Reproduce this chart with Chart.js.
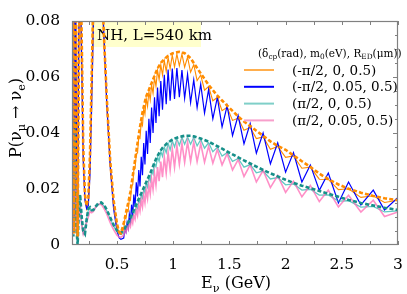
<!DOCTYPE html>
<html>
<head>
<meta charset="utf-8">
<script src="https://cdn.jsdelivr.net/npm/chart.js@4.4.0/dist/chart.umd.min.js"></script>
<style>
html, body { margin: 0; padding: 0; background: #fff; }
</style>
</head>
<body>
<canvas id="myChart" width="407" height="294"></canvas>
<script>
// energy grid (GeV): low-E part and the part with the fast wiggles
const eLow = [0.100, 0.106, 0.112, 0.118, 0.125, 0.132, 0.140, 0.150, 0.160, 0.172, 0.186, 0.200, 0.215, 0.230,
    0.245, 0.260, 0.275, 0.290, 0.310, 0.335, 0.360, 0.385, 0.410, 0.440, 0.470, 0.500, 0.520, 0.535];
const eWig = [0.56, 0.57, 0.58, 0.59, 0.60, 0.61, 0.62, 0.63, 0.64, 0.65,
    0.661, 0.672, 0.683, 0.694, 0.705, 0.716, 0.727, 0.738, 0.749, 0.76,
    0.772, 0.784, 0.796, 0.808, 0.821, 0.834, 0.847, 0.861, 0.875, 0.89,
    0.905, 0.921, 0.938, 0.955, 0.973, 0.992, 1.012, 1.033, 1.055, 1.078,
    1.102, 1.128, 1.155, 1.183, 1.213, 1.245, 1.279, 1.315, 1.353, 1.393,
    1.435, 1.48, 1.528, 1.578, 1.63, 1.685, 1.74, 1.80, 1.865, 1.93,
    2.0, 2.07, 2.145, 2.22, 2.30, 2.38, 2.47, 2.56, 2.67, 2.78,
    2.88, 3.0];

// standard oscillation, dcp = -pi/2 (orange dashed)
const stdNegLow = [0.07, 0.11, 0.03, 0.004, 0.06, 0.11, 0.05, 0.003, 0.06, 0.11, 0.075, 0.035, 0.018, 0.014,
    0.017, 0.032, 0.06, 0.088, 0.11, 0.118, 0.1, 0.074, 0.052, 0.03, 0.016, 0.0075, 0.0045, 0.0042];
const stdNegWig = [0.0077, 0.0095, 0.0115, 0.0133, 0.015, 0.017, 0.019, 0.0218, 0.0245, 0.0273,
    0.0303, 0.0333, 0.0363, 0.0393, 0.0422, 0.0447, 0.0473, 0.0493, 0.0512, 0.053,
    0.0542, 0.0554, 0.0566, 0.0578, 0.0591, 0.0604, 0.0617, 0.063, 0.064, 0.065,
    0.0657, 0.0664, 0.067, 0.0676, 0.068, 0.0684, 0.0686, 0.0688, 0.069, 0.0688,
    0.0685, 0.0677, 0.0667, 0.065, 0.0632, 0.0613, 0.0593, 0.0572, 0.0553, 0.0533,
    0.0516, 0.0498, 0.0479, 0.0459, 0.0441, 0.0425, 0.0408, 0.039, 0.037, 0.0354,
    0.034, 0.032, 0.0299, 0.0279, 0.0255, 0.0235, 0.0216, 0.0201, 0.0187, 0.0175,
    0.0167, 0.016];

// (-pi/2, 0, 0.5) orange solid
const negM0Low = [0.06, 0.1, 0.02, 0.006, 0.07, 0.1, 0.04, 0.005, 0.07, 0.1, 0.07, 0.032, 0.017, 0.013,
    0.016, 0.03, 0.057, 0.085, 0.105, 0.112, 0.096, 0.071, 0.05, 0.029, 0.015, 0.007, 0.004, 0.0038];
const negM0Wig = [0.0057, 0.0094, 0.0095, 0.0124, 0.012, 0.0164, 0.016, 0.0212, 0.0215, 0.0267,
    0.0273, 0.0327, 0.0328, 0.0387, 0.0382, 0.0441, 0.0428, 0.0487, 0.0467, 0.0524,
    0.0495, 0.0548, 0.0518, 0.0572, 0.0542, 0.0598, 0.0567, 0.0624, 0.059, 0.0644,
    0.0607, 0.0658, 0.062, 0.067, 0.063, 0.0678, 0.0636, 0.0682, 0.064, 0.0682,
    0.0635, 0.0671, 0.0617, 0.0644, 0.0587, 0.0607, 0.0553, 0.0566, 0.0515, 0.0527,
    0.048, 0.0492, 0.0445, 0.0453, 0.041, 0.042, 0.038, 0.0386, 0.0342, 0.0352,
    0.0313, 0.0318, 0.0274, 0.0278, 0.0235, 0.0234, 0.0198, 0.0201, 0.017, 0.0176,
    0.0152, 0.016];

// (-pi/2, 0.05, 0.5) blue
const negM5Low = [0.05, 0.09, 0.015, 0.01, 0.08, 0.095, 0.03, 0.008, 0.075, 0.095, 0.065, 0.03, 0.016, 0.013,
    0.014, 0.025, 0.05, 0.078, 0.1, 0.11, 0.098, 0.074, 0.05, 0.028, 0.013, 0.005, 0.0025, 0.002];
const negM5Wig = [0.0025, 0.0055, 0.0045, 0.008, 0.006, 0.011, 0.0085, 0.0144, 0.0105, 0.018,
    0.0138, 0.0224, 0.0173, 0.0268, 0.0209, 0.0315, 0.0249, 0.0364, 0.0288, 0.0408,
    0.0325, 0.0451, 0.0364, 0.0491, 0.040, 0.0528, 0.0436, 0.0562, 0.046, 0.0586,
    0.0483, 0.0608, 0.0503, 0.0627, 0.0515, 0.063, 0.0522, 0.0632, 0.0528, 0.0625,
    0.0524, 0.061, 0.0509, 0.059, 0.0491, 0.0574, 0.0471, 0.0555, 0.0451, 0.0527,
    0.0422, 0.0497, 0.0391, 0.0462, 0.0361, 0.0434, 0.0328, 0.040, 0.029, 0.0365,
    0.026, 0.033, 0.0225, 0.0286, 0.0195, 0.0257, 0.015, 0.0225, 0.0143, 0.0196,
    0.0125, 0.017];

// standard oscillation, dcp = +pi/2 (teal dashed)
const stdPosLow = [0.07, 0.03, 0.003, 0.02, 0.045, 0.03, 0.006, 0.0, 0.012, 0.018, 0.01, 0.005, 0.004, 0.009,
    0.013, 0.0135, 0.0125, 0.0125, 0.0137, 0.0149, 0.0152, 0.0143, 0.0125, 0.0098, 0.0072, 0.0052, 0.0045, 0.0043];
const stdPosWig = [0.0055, 0.006, 0.0068, 0.0074, 0.008, 0.0089, 0.0098, 0.0107, 0.0116, 0.0125,
    0.0135, 0.0145, 0.0155, 0.0165, 0.0175, 0.0184, 0.0194, 0.0204, 0.0214, 0.0224,
    0.0235, 0.0245, 0.0256, 0.0268, 0.0281, 0.0294, 0.0307, 0.0318, 0.0328, 0.0338,
    0.0347, 0.0353, 0.036, 0.0367, 0.0371, 0.0376, 0.038, 0.0383, 0.0386, 0.0388,
    0.039, 0.039, 0.039, 0.0388, 0.0384, 0.038, 0.0375, 0.0369, 0.0361, 0.0353,
    0.0344, 0.0334, 0.0324, 0.0313, 0.0302, 0.0291, 0.028, 0.0268, 0.0256, 0.0245,
    0.0233, 0.0222, 0.0212, 0.0203, 0.0193, 0.0183, 0.0172, 0.0161, 0.015, 0.0141,
    0.0133, 0.0125];

// (pi/2, 0, 0.5) light teal
const posM0Low = [0.08, 0.02, 0.005, 0.03, 0.04, 0.02, 0.004, 0.002, 0.015, 0.016, 0.008, 0.004, 0.005, 0.0095,
    0.0125, 0.013, 0.012, 0.0122, 0.0134, 0.0145, 0.0148, 0.014, 0.0121, 0.0094, 0.0068, 0.0048, 0.004, 0.0038];
const posM0Wig = [0.0042, 0.0056, 0.0053, 0.007, 0.0063, 0.0085, 0.0079, 0.0103, 0.0096, 0.0121,
    0.0113, 0.0141, 0.0132, 0.0161, 0.015, 0.018, 0.0168, 0.02, 0.0187, 0.022,
    0.0207, 0.0241, 0.0228, 0.0264, 0.0253, 0.029, 0.0279, 0.0314, 0.0299, 0.0334,
    0.0317, 0.0349, 0.033, 0.0363, 0.034, 0.0372, 0.035, 0.0379, 0.0356, 0.0384,
    0.036, 0.0386, 0.036, 0.0384, 0.0354, 0.0376, 0.0346, 0.0365, 0.0333, 0.0349,
    0.0318, 0.033, 0.0299, 0.0309, 0.0278, 0.0287, 0.0258, 0.0264, 0.0236, 0.0241,
    0.0215, 0.0218, 0.0196, 0.0199, 0.0178, 0.0179, 0.0157, 0.0158, 0.0135, 0.0138,
    0.0118, 0.0122];

// (pi/2, 0.05, 0.5) pink
const posM5Low = [0.06, 0.025, 0.004, 0.015, 0.035, 0.025, 0.006, 0.002, 0.01, 0.014, 0.007, 0.004, 0.006, 0.008,
    0.01, 0.012, 0.0115, 0.012, 0.0135, 0.0145, 0.0145, 0.013, 0.011, 0.008, 0.0055, 0.0035, 0.0028, 0.0028];
const posM5Wig = [0.0035, 0.0052, 0.0045, 0.0064, 0.0055, 0.0077, 0.0066, 0.0092, 0.0078, 0.0107,
    0.0092, 0.0125, 0.0106, 0.0143, 0.0121, 0.016, 0.0136, 0.0178, 0.0151, 0.0196,
    0.0166, 0.0215, 0.0182, 0.0235, 0.0198, 0.0256, 0.0213, 0.0278, 0.0228, 0.0298,
    0.0242, 0.0315, 0.0256, 0.0331, 0.0268, 0.0344, 0.0278, 0.0356, 0.0288, 0.0364,
    0.0295, 0.0368, 0.0298, 0.0368, 0.0298, 0.0362, 0.0296, 0.0353, 0.0292, 0.0341,
    0.0286, 0.0326, 0.0268, 0.0305, 0.0245, 0.0286, 0.0225, 0.0266, 0.0205, 0.0248,
    0.0188, 0.0228, 0.0172, 0.0213, 0.0155, 0.0196, 0.0136, 0.0178, 0.0118, 0.016,
    0.0102, 0.0118];

const xMajor = [0.5, 1, 1.5, 2, 2.5, 3];
const xLabels = ['0.5', '1', '1.5', '2', '2.5', '3'];
const yMajor = [0, 0.02, 0.04, 0.06, 0.08];
const yLabels = ['0', '0.02', '0.04', '0.06', '0.08'];
const legendLabels = ['(-π/2, 0, 0.5)', '(-π/2, 0.05, 0.5)', '(π/2, 0, 0.5)', '(π/2, 0.05, 0.5)'];
const legendColors = ['#ff8c00', '#0000ff', '#7fcfc8', '#f79fcb'];

const serif = "'DejaVu Serif', serif";

function toPoints(lo, hi) {
    const e = eLow.concat(eWig);
    return lo.concat(hi).map((p, i) => ({ x: e[i], y: p }));
}

// text with subscripts, runs = [[text, isSub], ...]
function runsWidth(ctx, runs, size) {
    let w = 0;
    for (const r of runs) {
        ctx.font = (r[1] ? size * 0.7 : size) + 'px ' + serif;
        w += ctx.measureText(r[0]).width;
    }
    return w;
}
function drawRuns(ctx, runs, x, y, size) {
    ctx.textAlign = 'left';
    ctx.textBaseline = 'alphabetic';
    for (const r of runs) {
        ctx.font = (r[1] ? size * 0.7 : size) + 'px ' + serif;
        ctx.fillText(r[0], x, r[1] ? y + size * 0.22 : y);
        x += ctx.measureText(r[0]).width;
    }
}

const decorations = {
    id: 'decorations',
    beforeDatasetsDraw(chart) {
        const ctx = chart.ctx;
        ctx.save();
        ctx.fillStyle = '#ffffcc';
        ctx.fillRect(91, 22, 110, 25);
        ctx.fillStyle = '#000';
        ctx.font = '15px ' + serif;
        ctx.textAlign = 'left';
        ctx.textBaseline = 'alphabetic';
        ctx.fillText('NH, L=540 km', 97, 40);
        ctx.restore();
    },
    afterDraw(chart) {
        const ctx = chart.ctx;
        const a = chart.chartArea;
        const xs = chart.scales.x, ys = chart.scales.y;
        ctx.save();
        // frame
        ctx.strokeStyle = '#808080';
        ctx.lineWidth = 1.2;
        ctx.strokeRect(a.left + 0.5, a.top + 0.5, a.right - a.left - 1, a.bottom - a.top - 1);
        // inward ticks
        ctx.lineWidth = 1;
        ctx.beginPath();
        for (let v = 0.25; v <= 3.001; v += 0.25) {
            const px = Math.round(xs.getPixelForValue(v)) + 0.5;
            ctx.moveTo(px, a.bottom); ctx.lineTo(px, a.bottom - 4);
            ctx.moveTo(px, a.top); ctx.lineTo(px, a.top + 4);
        }
        for (let v = 0.005; v < 0.08; v += 0.005) {
            const py = Math.round(ys.getPixelForValue(v)) + 0.5;
            const len = Math.abs(v / 0.02 - Math.round(v / 0.02)) < 0.01 ? 5 : 3;
            ctx.moveTo(a.left, py); ctx.lineTo(a.left + len, py);
            ctx.moveTo(a.right, py); ctx.lineTo(a.right - len, py);
        }
        ctx.stroke();

        // axis titles
        ctx.fillStyle = '#000';
        const xt = [['E', 0], ['ν', 1], [' (GeV)', 0]];
        drawRuns(ctx, xt, 236 - runsWidth(ctx, xt, 16) / 2, 288, 16);
        const yt = [['P(ν', 0], ['μ', 1], [' → ν', 0], ['e', 1], [')', 0]];
        ctx.save();
        ctx.translate(21, 118);
        ctx.rotate(-Math.PI / 2);
        drawRuns(ctx, yt, -runsWidth(ctx, yt, 16) / 2, 0, 16);
        ctx.restore();

        // legend
        const lt = [['(δ', 0], ['cp', 1], ['(rad), m', 0], ['0', 1], ['(eV), R', 0], ['ED', 1], ['(μm))', 0]];
        drawRuns(ctx, lt, 258, 57, 10.5);
        for (let i = 0; i < legendLabels.length; i++) {
            const y = 70 + i * 16.8;
            ctx.strokeStyle = legendColors[i];
            ctx.lineWidth = i === 0 ? 1.4 : 2;
            ctx.beginPath();
            ctx.moveTo(244, y); ctx.lineTo(274, y);
            ctx.stroke();
            ctx.fillStyle = '#000';
            ctx.font = '13.5px ' + serif;
            ctx.textAlign = 'left';
            ctx.textBaseline = 'middle';
            ctx.fillText(legendLabels[i], 292, y + 1);
        }
        ctx.restore();
    }
};

const ctx = document.getElementById('myChart').getContext('2d');
const myChart = new Chart(ctx, {
    type: 'line',
    data: {
        datasets: [
            { data: toPoints(stdNegLow, stdNegWig), borderColor: '#ff8c00', borderWidth: 2.6, borderDash: [4, 2.2], order: 0 },
            { data: toPoints(stdPosLow, stdPosWig), borderColor: '#17908a', borderWidth: 2.6, borderDash: [4, 2.2], order: 1 },
            { data: toPoints(posM5Low, posM5Wig), borderColor: 'rgba(255,105,180,0.75)', borderWidth: 1.6, order: 2 },
            { data: toPoints(posM0Low, posM0Wig), borderColor: 'rgba(32,178,170,0.7)', borderWidth: 1.3, order: 3 },
            { data: toPoints(negM5Low, negM5Wig), borderColor: '#0000ff', borderWidth: 1.2, order: 4 },
            { data: toPoints(negM0Low, negM0Wig), borderColor: '#ff8c00', borderWidth: 1.1, order: 5 }
        ]
    },
    options: {
        responsive: false,
        animation: false,
        devicePixelRatio: 1,
        layout: { padding: { left: 0, top: 21, right: 9, bottom: 0 } },
        elements: { point: { radius: 0 }, line: { tension: 0 } },
        plugins: { legend: { display: false }, tooltip: { enabled: false } },
        scales: {
            x: {
                type: 'linear',
                min: 0.1,
                max: 3,
                grid: { display: false },
                border: { display: false },
                afterBuildTicks: (s) => { s.ticks = xMajor.map(v => ({ value: v })); },
                afterFit: (s) => { s.height = 49; },
                ticks: {
                    autoSkip: false,
                    maxRotation: 0,
                    padding: 3,
                    color: '#000',
                    font: { family: serif, size: 15.5 },
                    callback: (v) => xLabels[xMajor.indexOf(v)]
                }
            },
            y: {
                min: 0,
                max: 0.08,
                grid: { display: false },
                border: { display: false },
                afterBuildTicks: (s) => { s.ticks = yMajor.map(v => ({ value: v })); },
                afterFit: (s) => { s.width = 72; },
                ticks: {
                    autoSkip: false,
                    padding: 4,
                    color: '#000',
                    font: { family: serif, size: 15.5 },
                    callback: (v) => yLabels[yMajor.indexOf(v)]
                }
            }
        }
    },
    plugins: [decorations]
});
</script>
</body>
</html>
